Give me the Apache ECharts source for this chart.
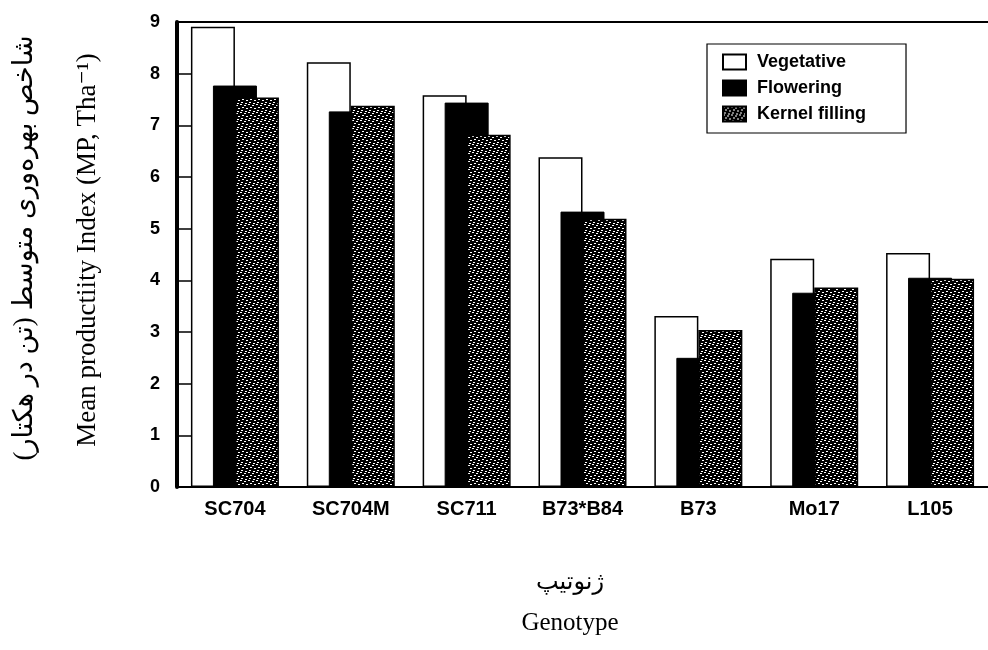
<!DOCTYPE html>
<html lang="en">
<head>
    <meta charset="UTF-8">
    <title>Mean productivity index</title>
    <script src="https://cdn.jsdelivr.net/npm/echarts@6/dist/echarts.min.js"></script>
    <style>
        body { margin: 0; background: #fff; }
        #main { width: 988px; height: 650px; }
    </style>
</head>
<body>
<div id="main"></div>
<script>
    // data
    var genotypes = ['SC704', 'SC704M', 'SC711', 'B73*B84', 'B73', 'Mo17', 'L105'];
    var vegetative = [8.91, 8.22, 7.58, 6.38, 3.31, 4.42, 4.53];
    var flowering = [7.77, 7.27, 7.44, 5.33, 2.50, 3.76, 4.05];
    var kernelFilling = [7.54, 7.38, 6.82, 5.19, 3.04, 3.86, 4.03];
    var yTicks = [0, 1, 2, 3, 4, 5, 6, 7, 8, 9];

    // stipple texture for the kernel filling bars
    function makeStipple() {
        var c = document.createElement('canvas');
        c.width = 8;
        c.height = 8;
        var ctx = c.getContext('2d');
        ctx.fillStyle = '#000';
        ctx.fillRect(0, 0, 8, 8);
        ctx.fillStyle = '#fff';
        var dots = [[0, 0], [4, 1], [2, 3], [6, 4], [1, 6], [5, 7]];
        dots.forEach(function (d) {
            ctx.fillRect(d[0], d[1], 2, 1);
        });
        return c;
    }
    var stipple = {image: makeStipple(), repeat: 'repeat'};

    var myChart = echarts.init(document.getElementById('main'));
    var boldFont = 'Liberation Sans, Arial, sans-serif';
    var serifFont = 'Liberation Serif, Times New Roman, DejaVu Sans, serif';

    var option = {
        backgroundColor: '#fff',
        animation: false,
        grid: {left: 177, top: 22, right: -2, bottom: 163},
        legend: {
            orient: 'vertical',
            left: 707,
            top: 44,
            padding: [9, 40, 10, 15],
            itemWidth: 23,
            itemHeight: 15,
            itemGap: 8,
            borderColor: '#000',
            borderWidth: 1.2,
            icon: 'rect',
            textStyle: {
                fontFamily: boldFont, fontWeight: 'bold', fontSize: 18, color: '#000',
                padding: [0, 0, 0, 6]
            },
            data: ['Vegetative', 'Flowering', 'Kernel filling']
        },
        xAxis: [{
            type: 'category',
            data: genotypes,
            axisLine: {lineStyle: {color: '#000', width: 2}},
            axisTick: {show: false},
            axisLabel: {
                fontFamily: boldFont, fontWeight: 'bold', fontSize: 20, color: '#000', margin: 12
            }
        }, {
            type: 'category',
            position: 'top',
            data: genotypes,
            axisLine: {lineStyle: {color: '#000', width: 2}},
            axisTick: {show: false},
            axisLabel: {show: false}
        }],
        yAxis: {
            type: 'value',
            min: yTicks[0],
            max: yTicks[yTicks.length - 1],
            interval: 1,
            splitLine: {show: false},
            axisLine: {show: true, lineStyle: {color: '#000', width: 4}},
            axisTick: {show: true, inside: true, length: 14, lineStyle: {color: '#000', width: 1.5}},
            axisLabel: {
                fontFamily: boldFont, fontWeight: 'bold', fontSize: 18, color: '#000', margin: 17
            }
        },
        graphic: [
            {
                type: 'text', x: 25, y: 248, rotation: Math.PI / 2,
                style: {
                    text: 'شاخص بهره‌وری متوسط (تن در هکتار)',
                    font: '27px ' + serifFont, fill: '#000', align: 'center', verticalAlign: 'middle'
                }
            },
            {
                type: 'text', x: 88, y: 250, rotation: Math.PI / 2,
                style: {
                    text: 'Mean productiity Index (MP, Tha⁻¹)',
                    font: '27px ' + serifFont, fill: '#000', align: 'center', verticalAlign: 'middle'
                }
            },
            {
                type: 'text', x: 570, y: 583,
                style: {
                    text: 'ژنوتیپ',
                    font: '24px ' + serifFont, fill: '#000', align: 'center', verticalAlign: 'middle'
                }
            },
            {
                type: 'text', x: 570, y: 623,
                style: {
                    text: 'Genotype',
                    font: '25px ' + serifFont, fill: '#000', align: 'center', verticalAlign: 'middle'
                }
            }
        ],
        series: [
            {
                name: 'Vegetative', type: 'bar', data: vegetative,
                barWidth: 44, barGap: '-50%',
                itemStyle: {color: '#fff', borderColor: '#000', borderWidth: 1.5}
            },
            {
                name: 'Flowering', type: 'bar', data: flowering,
                barWidth: 44, barGap: '-50%',
                itemStyle: {color: '#000', borderColor: '#000', borderWidth: 1}
            },
            {
                name: 'Kernel filling', type: 'bar', data: kernelFilling,
                barWidth: 44, barGap: '-50%',
                itemStyle: {color: stipple, borderColor: '#000', borderWidth: 1.5}
            }
        ]
    };

    myChart.setOption(option);
</script>
</body>
</html>
